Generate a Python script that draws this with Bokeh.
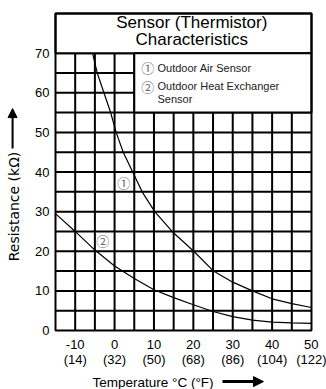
from bokeh.plotting import figure
from bokeh.models import Range1d, FixedTicker, Label, Arrow, NormalHead
from bokeh.embed import file_html
from bokeh.resources import INLINE

# ---- data ----
temp_c_ticks = [-10, 0, 10, 20, 30, 40, 50]
temp_f_labels = ["(14)", "(32)", "(50)", "(68)", "(86)", "(104)", "(122)"]
res_ticks = [0, 10, 20, 30, 40, 50, 60, 70]
grid_x = [-10, -5, 0, 5, 10, 15, 20, 25, 30, 35, 40, 45]
grid_y = [5, 10, 15, 20, 25, 30, 35, 40, 45, 50, 55, 60, 65, 70]

# (1) Outdoor Air Sensor
air_temp = [-5.6, -4.4, -2.7, -1.0, 0.4, 2.2, 4.6, 7.0, 10.2, 14.6, 20.1, 25, 30, 35, 40, 45, 50]
air_res = [70, 65, 60, 55, 50, 45, 40, 35, 30, 25, 20, 15.1, 12.2, 10.0, 8.0, 6.8, 5.8]

# (2) Outdoor Heat Exchanger Sensor
hx_temp = [-15, -10, -5, 0, 5, 10, 15, 20, 25, 30, 35, 40, 45, 50]
hx_res = [29.5, 25.0, 20.3, 16.3, 13.1, 10.3, 8.3, 6.5, 4.8, 3.5, 2.6, 2.1, 1.9, 1.8]

title_lines = ["Sensor (Thermistor)", "Characteristics"]
legend_lines = ["Outdoor Air Sensor", "Outdoor Heat Exchanger", "Sensor"]
x_title = "Temperature °C (°F)"
y_title = "Resistance (kΩ)"

# chart box in data units
X0, X1, Y0, Y1 = -15, 50, 0, 80

FONT = "Liberation Sans"
W, H = 326, 389
LEFT, RIGHT, TOP, BOTTOM = 55, 311, 13, 330   # box edges in pixels
kx = (RIGHT - LEFT) / (X1 - X0)
ky = (BOTTOM - TOP) / (Y1 - Y0)

p = figure(width=W, height=H, output_backend="svg", toolbar_location=None,
           x_range=Range1d(X0 - LEFT / kx, X1 + (W - RIGHT) / kx),
           y_range=Range1d(Y0 - (H - BOTTOM) / ky, Y1 + TOP / ky),
           min_border=0, background_fill_color="white", border_fill_color="white")
p.outline_line_color = None
p.grid.visible = False

# axes pinned to the chart box
p.xaxis.fixed_location = Y0
p.yaxis.fixed_location = X0
p.xaxis.ticker = FixedTicker(ticks=temp_c_ticks)
p.xaxis.major_label_overrides = {c: f"{c}\n{f}" for c, f in zip(temp_c_ticks, temp_f_labels)}
p.yaxis.ticker = FixedTicker(ticks=res_ticks)
for ax in (p.xaxis, p.yaxis):
    ax.axis_line_color = None
    ax.major_tick_line_color = None
    ax.minor_tick_line_color = None
    ax.major_tick_out = 0
    ax.major_tick_in = 0
    ax.major_label_text_font = FONT
    ax.major_label_text_font_size = "13px"
    ax.major_label_text_color = "black"
p.xaxis.major_label_text_line_height = 1.05
p.xaxis.major_label_standoff = 6
p.yaxis.major_label_standoff = 6

# grid every 5 units
p.segment(x0=grid_x, y0=[Y0] * len(grid_x), x1=grid_x, y1=[70] * len(grid_x),
          line_color="black", line_width=2)
p.segment(x0=[X0] * len(grid_y), y0=grid_y, x1=[X1] * len(grid_y), y1=grid_y,
          line_color="black", line_width=2)

# title box and legend box (white panels over the grid), chart outline
p.quad(left=[X0], right=[X1], bottom=[70], top=[Y1], fill_color="white",
       line_color="black", line_width=2)
p.quad(left=[5], right=[X1], bottom=[55], top=[70], fill_color="white",
       line_color="black", line_width=2)
p.quad(left=[X0], right=[X1], bottom=[Y0], top=[Y1], fill_color=None,
       line_color="black", line_width=2)

# curves
p.line(air_temp, air_res, line_color="black", line_width=1.2)
p.line(hx_temp, hx_res, line_color="black", line_width=1.2)

# title text
p.add_layout(Label(x=19.6, y=77.7, text=title_lines[0], text_font=FONT, text_font_size="17px",
                   text_align="center", text_baseline="middle", text_color="black"))
p.add_layout(Label(x=19.6, y=73.4, text=title_lines[1], text_font=FONT, text_font_size="17px",
                   text_align="center", text_baseline="middle", text_color="black"))

# legend texts
CJK = "Noto Sans CJK JP"
p.add_layout(Label(x=8.4, y=66.3, text="①", text_font=CJK, text_font_size="13px",
                   text_align="center", text_baseline="middle", text_color="#666666"))
p.add_layout(Label(x=8.4, y=61.7, text="②", text_font=CJK, text_font_size="13px",
                   text_align="center", text_baseline="middle", text_color="#666666"))
p.add_layout(Label(x=10.9, y=66.3, text=legend_lines[0], text_font=FONT, text_font_size="11px",
                   text_align="left", text_baseline="middle", text_color="#222222"))
p.add_layout(Label(x=10.9, y=61.7, text=legend_lines[1], text_font=FONT, text_font_size="11px",
                   text_align="left", text_baseline="middle", text_color="#222222"))
p.add_layout(Label(x=10.9, y=58.3, text=legend_lines[2], text_font=FONT, text_font_size="11px",
                   text_align="left", text_baseline="middle", text_color="#222222"))

# curve markers
p.add_layout(Label(x=2.3, y=37.3, text="①", text_font=CJK, text_font_size="13px",
                   text_align="center", text_baseline="middle", text_color="#666666"))
p.add_layout(Label(x=-3.0, y=22.7, text="②", text_font=CJK, text_font_size="13px",
                   text_align="center", text_baseline="middle", text_color="#666666"))

# axis titles with arrows
p.add_layout(Label(x=-25.66, y=31.3, text=y_title, text_font="DejaVu Sans", text_font_size="14px",
                   angle=1.5708, text_align="center", text_baseline="middle", text_color="black"))
p.add_layout(Arrow(x_start=-25.9, y_start=45.9, x_end=-25.9, y_end=56.0, line_width=2,
                   line_color="black",
                   end=NormalHead(size=9, fill_color="black", line_color="black")))
p.add_layout(Label(x=-5.6, y=-13.1, text=x_title, text_font=FONT, text_font_size="13.5px",
                   text_align="left", text_baseline="middle", text_color="black"))
p.add_layout(Arrow(x_start=27.4, y_start=-12.9, x_end=37.8, y_end=-12.9, line_width=3,
                   line_color="black",
                   end=NormalHead(size=10, fill_color="black", line_color="black")))

open("out.html", "w").write(file_html(p, INLINE))
